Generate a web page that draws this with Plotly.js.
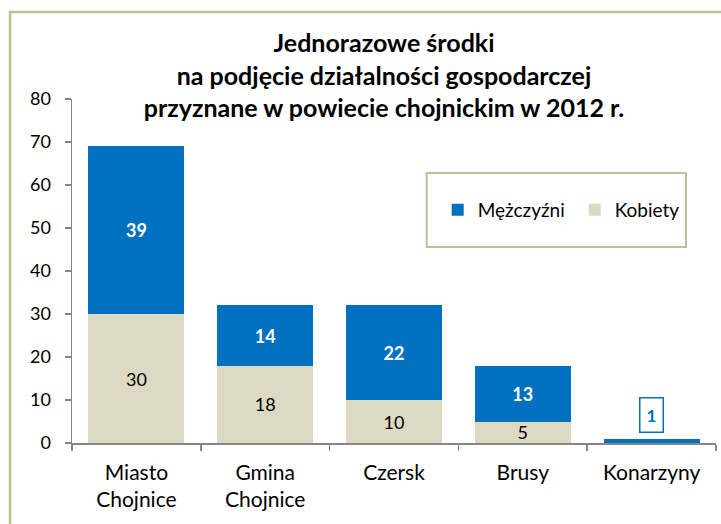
<!DOCTYPE html>
<html>
<head>
<meta charset="utf-8">
<script src="https://cdn.plot.ly/plotly-3.0.1.min.js"></script>
<style>html,body{margin:0;padding:0;background:#fff;}#chart{width:721px;height:524px;}</style>
</head>
<body>
<div id="chart"></div>
<script>
const categories = ['Miasto<br>Chojnice', 'Gmina<br>Chojnice', 'Czersk', 'Brusy', 'Konarzyny'];
const kobiety = [30, 18, 10, 5, 0];
const mezczyzni = [39, 14, 22, 13, 1];
const seriesNames = ['Kobiety', 'Mężczyźni'];
const titleLines = ['Jednorazowe środki', 'na podjęcie działalności gospodarczej', 'przyznane w powiecie chojnickim w 2012 r.'];
const yTicks = [0, 10, 20, 30, 40, 50, 60, 70, 80];

const FONT = 'Lato, "Open Sans", sans-serif';
const BLUE = '#0070C0';
const TAN = '#DDD9C3';
const BORDER = '#C4BD97';
const AXIS = '#868686';

const mText = mezczyzni.map(v => v > 1 ? String(v) : '');
const kText = kobiety.map(v => v > 0 ? String(v) : '');

const traces = [
  {
    type: 'bar', name: seriesNames[0], x: categories, y: kobiety,
    marker: {color: TAN},
    text: kText, textposition: 'inside', insidetextanchor: 'middle', textangle: 0,
    constraintext: 'none',
    textfont: {family: FONT, size: 18, color: '#000'},
    hoverinfo: 'none'
  },
  {
    type: 'bar', name: seriesNames[1], x: categories, y: mezczyzni,
    marker: {color: BLUE},
    text: mText, textposition: 'inside', insidetextanchor: 'middle', textangle: 0,
    constraintext: 'none',
    textfont: {family: FONT, size: 18, color: '#fff', weight: 'bold'},
    hoverinfo: 'none'
  }
];

const annotations = [];
mezczyzni.forEach((v, i) => {
  if (v <= 1) {
    annotations.push({
      x: categories[i], y: kobiety[i] + v, xref: 'x', yref: 'y',
      text: '<b>' + v + '</b>', showarrow: false, yanchor: 'bottom', yshift: 6,
      font: {family: FONT, size: 17, color: BLUE},
      bordercolor: BLUE, borderwidth: 1.5, borderpad: 6, bgcolor: '#fff'
    });
  }
});

const L = 72, R = 4.5, T = 99, B = 81;
const W = 721, H = 524;
const pw = W - L - R, ph = H - T - B;
const px = v => (v - L) / pw;
const py = v => (H - B - v) / ph;

const layout = {
  width: W, height: H,
  margin: {l: L, r: R, t: T, b: B, pad: 0, autoexpand: false},
  paper_bgcolor: '#fff', plot_bgcolor: '#fff',
  barmode: 'stack', bargap: 0.255,
  font: {family: FONT, size: 17, color: '#000'},
  title: {
    text: '<b>' + titleLines.join('<br>') + '</b>',
    font: {family: FONT, size: 25, color: '#000'},
    x: 384 / W, xref: 'container', xanchor: 'center',
    y: 1 - 52 / H, yref: 'container', yanchor: 'middle'
  },
  xaxis: {
    type: 'category', range: [-0.5, 4.5], fixedrange: true,
    showline: true, linecolor: AXIS, linewidth: 1.5,
    ticks: 'outside', tickson: 'boundaries', ticklen: 6, tickcolor: AXIS, tickwidth: 1.5,
    tickfont: {family: FONT, size: 21, color: '#000'}, tickangle: 0,
    ticklabelstandoff: 10, automargin: false,
    showgrid: false, zeroline: false
  },
  yaxis: {
    range: [0, 80], tickvals: yTicks, fixedrange: true,
    showline: true, linecolor: AXIS, linewidth: 1.5,
    ticks: 'outside', ticklen: 6, tickcolor: AXIS, tickwidth: 1.5,
    tickfont: {family: FONT, size: 18, color: '#000'},
    ticklabelstandoff: 10, automargin: false,
    showgrid: false, zeroline: false
  },
  showlegend: true,
  legend: {
    orientation: 'h', traceorder: 'reversed',
    x: px(438), xanchor: 'left', y: py(210), yanchor: 'middle',
    bgcolor: 'rgba(0,0,0,0)', borderwidth: 0,
    font: {family: FONT, size: 19, color: '#000'},
    itemwidth: 30, entrywidth: 92, entrywidthmode: 'pixels'
  },
  shapes: [
    {type: 'rect', xref: 'paper', yref: 'paper', x0: px(10), x1: px(740), y0: py(540), y1: py(12),
     line: {color: BORDER, width: 2.5}, fillcolor: 'rgba(0,0,0,0)', layer: 'below'},
    {type: 'rect', xref: 'paper', yref: 'paper', x0: px(427), x1: px(686.5), y0: py(247), y1: py(173),
     line: {color: BORDER, width: 2}, fillcolor: '#fff', layer: 'above'}
  ],
  annotations: annotations
};

Plotly.newPlot('chart', traces, layout, {displayModeBar: false, staticPlot: true});
</script>
</body>
</html>
